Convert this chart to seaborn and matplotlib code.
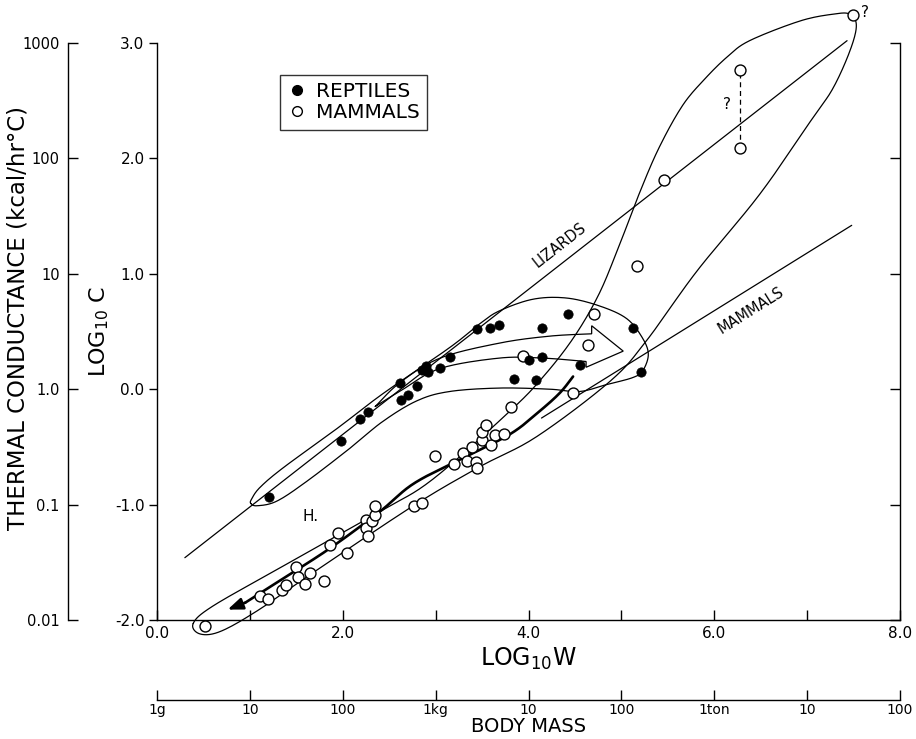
import numpy as np
import pandas as pd
import matplotlib
matplotlib.use("Agg")
import matplotlib.pyplot as plt
import seaborn as sns
from matplotlib.lines import Line2D

# ---------------- data ----------------
reptile_logw = [1.21, 1.98, 2.19, 2.27, 2.62, 2.63, 2.70, 2.80, 2.85, 2.90, 2.92, 3.05, 3.15,
                3.45, 3.59, 3.68, 3.84, 4.00, 4.08, 4.15, 4.15, 4.43, 4.55, 5.13, 5.21]
reptile_logc = [-0.93, -0.45, -0.26, -0.20, 0.05, -0.09, -0.05, 0.03, 0.17, 0.20, 0.15, 0.18, 0.28,
                0.52, 0.53, 0.56, 0.09, 0.25, 0.08, 0.28, 0.53, 0.65, 0.21, 0.53, 0.15]

mammal_logw = [0.52, 1.11, 1.20, 1.35, 1.39, 1.50, 1.52, 1.59, 1.65, 1.80, 1.86, 1.95, 2.05,
               2.25, 2.25, 2.27, 2.32, 2.35, 2.35, 2.77, 2.85, 2.99, 3.20, 3.29, 3.34, 3.39,
               3.43, 3.45, 3.50, 3.50, 3.54, 3.60, 3.64, 3.74, 3.81, 3.94, 4.48, 4.64, 4.70,
               5.17, 5.46, 6.28, 6.28, 7.49]
mammal_logc = [-2.05, -1.79, -1.82, -1.74, -1.70, -1.54, -1.63, -1.69, -1.59, -1.66, -1.35, -1.25, -1.42,
               -1.13, -1.20, -1.27, -1.14, -1.09, -1.01, -1.01, -0.99, -0.58, -0.65, -0.55, -0.62, -0.50,
               -0.63, -0.68, -0.44, -0.37, -0.31, -0.48, -0.40, -0.39, -0.15, 0.29, -0.03, 0.38, 0.65,
               1.07, 1.81, 2.09, 2.77, 3.24]

# regression lines
lizards_line_w = [0.30, 7.43]
lizards_line_c = [-1.46, 3.02]
mammals_line_w = [4.14, 7.48]
mammals_line_c = [-0.25, 1.42]

# envelopes (closed outlines)
reptile_env_w = [1.01, 1.02, 1.11, 1.36, 1.94, 2.43, 3.15, 3.48, 3.69, 4.05, 4.41, 4.77, 5.06, 5.23,
                 5.29, 5.23, 5.12, 4.84, 4.55, 4.23, 3.69, 3.15, 2.80, 2.43, 2.08, 1.61, 1.29, 1.08]
reptile_env_c = [-0.99, -0.95, -0.85, -0.68, -0.34, -0.04, 0.36, 0.57, 0.68, 0.78, 0.79, 0.72, 0.61, 0.44,
                 0.30, 0.16, 0.10, 0.04, -0.02, 0.00, 0.01, -0.02, -0.10, -0.28, -0.51, -0.80, -0.97, -1.01]

mammal_env_w = [0.39, 0.60, 1.32, 2.40, 2.97, 3.80, 4.15, 4.48, 4.75, 4.96, 5.20, 5.41, 5.66, 5.90,
                6.14, 6.38, 6.92, 7.28, 7.46, 7.53, 7.46, 7.28, 7.06, 6.49, 5.81, 5.27, 4.88, 4.09,
                3.48, 2.76, 1.68, 1.08, 0.68, 0.46]
mammal_env_c = [-2.03, -1.88, -1.55, -1.06, -0.78, -0.19, 0.10, 0.44, 0.81, 1.21, 1.71, 2.10, 2.46, 2.69,
                2.88, 3.02, 3.19, 3.25, 3.25, 3.15, 2.93, 2.61, 2.35, 1.69, 1.02, 0.42, 0.07, -0.41,
                -0.67, -1.01, -1.59, -1.92, -2.10, -2.12]

# hollow arrow in the reptile envelope
arrow_upper_w = [2.35, 2.62, 3.05, 3.69, 4.23, 4.68]
arrow_upper_c = [-0.15, 0.06, 0.27, 0.40, 0.46, 0.48]
arrow_head_w = [4.68, 4.68, 5.02, 4.62, 4.62]
arrow_head_c = [0.48, 0.55, 0.33, 0.19, 0.24]
arrow_lower_w = [4.62, 4.15, 3.69, 3.05, 2.65, 2.35]
arrow_lower_c = [0.24, 0.27, 0.27, 0.18, 0.00, -0.15]

# heavy trend arrow through mammals
mtrend_w = [4.48, 4.34, 4.12, 3.80, 3.26, 2.76, 2.40, 1.86, 1.32, 0.95]
mtrend_c = [0.11, -0.03, -0.19, -0.39, -0.61, -0.82, -1.06, -1.38, -1.66, -1.85]
mtrend_tip = (0.76, -1.91)

dash_w = [6.28, 6.28]
dash_c = [2.09, 2.77]

logc_ticks = [-2, -1, 0, 1, 2, 3]
logc_labels = ["-2.0", "-1.0", "0.0", "1.0", "2.0", "3.0"]
logw_ticks = [0, 1, 2, 3, 4, 5, 6, 7, 8]
logw_labels = ["0.0", "", "2.0", "", "4.0", "", "6.0", "", "8.0"]
cond_ticks = [0.01, 0.1, 1, 10, 100, 1000]
cond_labels = ["0.01", "0.1", "1.0", "10", "100", "1000"]
mass_ticks = [0, 1, 2, 3, 4, 5, 6, 7, 8]
mass_labels = ["1g", "10", "100", "1kg", "10", "100", "1ton", "10", "100"]


def smooth(xs, ys, closed=False, n=16):
    P = np.column_stack([xs, ys]).astype(float)
    if closed:
        P = np.vstack([P[-1], P, P[0], P[1]])
    else:
        P = np.vstack([P[0], P, P[-1]])
    t = np.linspace(0, 1, n, endpoint=False)[:, None]
    out = []
    for i in range(1, len(P) - 2):
        p0, p1, p2, p3 = P[i - 1], P[i], P[i + 1], P[i + 2]
        seg = 0.5 * ((2 * p1) + (-p0 + p2) * t + (2 * p0 - 5 * p1 + 4 * p2 - p3) * t ** 2
                     + (-p0 + 3 * p1 - 3 * p2 + p3) * t ** 3)
        out.append(seg)
    out.append(P[-2][None, :])
    r = np.vstack(out)
    return r[:, 0], r[:, 1]


sns.set_style("ticks")
plt.rcParams["font.family"] = ["DejaVu Sans"]
plt.rcParams["axes.linewidth"] = 1.0
for k in ["text.color", "axes.labelcolor", "xtick.color", "ytick.color", "axes.edgecolor"]:
    plt.rcParams[k] = "black"

W, H = 916, 739
fig = plt.figure(figsize=(W / 100, H / 100), dpi=100)
L, R, T, B = 157, 900, 43, 620
ax = fig.add_axes([L / W, 1 - B / H, (R - L) / W, (B - T) / H])
ax.set_xlim(0, 8)
ax.set_ylim(-2, 3)

thin = dict(color="black", lw=0.9, clip_on=False, solid_capstyle="round")

# regression lines
ax.plot(lizards_line_w, lizards_line_c, **thin)
ax.plot(mammals_line_w, mammals_line_c, **thin)

# envelopes
ex, ey = smooth(reptile_env_w, reptile_env_c, closed=True)
ax.plot(ex, ey, **thin)
ex, ey = smooth(mammal_env_w, mammal_env_c, closed=True)
ax.plot(ex, ey, **thin)

# hollow arrow
ux, uy = smooth(arrow_upper_w, arrow_upper_c)
lx, ly = smooth(arrow_lower_w, arrow_lower_c)
hx = np.concatenate([ux, arrow_head_w, lx])
hy = np.concatenate([uy, arrow_head_c, ly])
ax.plot(hx, hy, color="black", lw=0.9, clip_on=False, solid_joinstyle="miter")

# heavy trend arrow
tx, ty = smooth(mtrend_w, mtrend_c)
ax.plot(tx, ty, color="black", lw=1.9, clip_on=False)
ax.annotate("", xy=mtrend_tip, xytext=(mtrend_w[-1], mtrend_c[-1]),
            arrowprops=dict(arrowstyle="-|>,head_length=0.9,head_width=0.35", color="black",
                            lw=1.9, shrinkA=0, shrinkB=0), annotation_clip=False)

ax.plot(dash_w, dash_c, color="black", lw=0.9, ls=(0, (4, 3)), clip_on=False)

# points
rep = pd.DataFrame({"logW": reptile_logw, "logC": reptile_logc})
mam = pd.DataFrame({"logW": mammal_logw, "logC": mammal_logc})
sns.scatterplot(data=mam, x="logW", y="logC", ax=ax, s=62, color="white",
                edgecolor="black", linewidth=1.0, zorder=5, clip_on=False, legend=False)
sns.scatterplot(data=rep, x="logW", y="logC", ax=ax, s=45, color="black",
                edgecolor="black", linewidth=0.5, zorder=6, clip_on=False, legend=False)
for c in ax.collections:
    c.set_clip_on(False)

# text annotations
ax.text(4.34, 1.25, "LIZARDS", rotation=38, ha="center", va="center", fontsize=10.5)
ax.text(6.40, 0.68, "MAMMALS", rotation=32, ha="center", va="center", fontsize=10.5)
ax.text(1.65, -1.10, "H.", ha="center", va="center", fontsize=11)
ax.text(6.14, 2.47, "?", ha="center", va="center", fontsize=11)
ax.text(7.62, 3.26, "?", ha="center", va="center", fontsize=11, clip_on=False)

# legend
handles = [Line2D([], [], marker="o", ls="none", markerfacecolor="black", markeredgecolor="black",
                  markersize=7, label="REPTILES"),
           Line2D([], [], marker="o", ls="none", markerfacecolor="white", markeredgecolor="black",
                  markersize=7, label="MAMMALS")]
leg = ax.legend(handles=handles, loc="upper left", bbox_to_anchor=(280 / W, 1 - 75 / H),
                bbox_transform=fig.transFigure, frameon=True, fancybox=False, fontsize=14.5,
                handletextpad=0.45, borderpad=0.35, labelspacing=0.12, handlelength=1.0,
                borderaxespad=0)
leg.get_frame().set_edgecolor("black")
leg.get_frame().set_linewidth(1.0)

# main axes styling
ax.spines["top"].set_visible(False)
ax.spines["right"].set_visible(False)
ax.set_xticks(logw_ticks)
ax.set_xticklabels(logw_labels)
ax.set_yticks(logc_ticks)
ax.set_yticklabels(logc_labels)
ax.tick_params(axis="x", direction="in", length=7, width=1, labelsize=11, pad=4)
ax.tick_params(axis="y", direction="out", length=6, width=1, labelsize=11, pad=3)
ax.set_xlabel(r"LOG$_{\mathrm{10}}$W", fontsize=17, labelpad=4)
ax.set_ylabel(r"LOG$_{\mathrm{10}}$ C", fontsize=16, labelpad=3)
ax.grid(False)

# right frame with inward ticks
axr = ax.secondary_yaxis("right")
axr.set_yticks(logc_ticks)
axr.set_yticklabels([])
axr.tick_params(axis="y", direction="in", length=7, width=1)
axr.spines["right"].set_linewidth(1.0)

# left conductance axis
ax2 = fig.add_axes([68 / W, 1 - B / H, 0.0005, (B - T) / H])
ax2.set_yscale("log")
ax2.set_ylim(0.01, 1000)
for s in ["top", "right", "bottom"]:
    ax2.spines[s].set_visible(False)
ax2.set_xticks([])
ax2.set_yticks(cond_ticks)
ax2.set_yticklabels(cond_labels)
ax2.yaxis.set_minor_locator(matplotlib.ticker.NullLocator())
ax2.tick_params(axis="y", direction="in", length=7, width=1, labelsize=10.5, pad=6)
ax2.patch.set_visible(False)
fig.text(18 / W, 1 - 318 / H, "THERMAL CONDUCTANCE (kcal/hr°C)", rotation=90,
         ha="center", va="center", fontsize=16.5)

# bottom body-mass axis
ax3 = fig.add_axes([L / W, 1 - 700 / H, (R - L) / W, 0.0005])
ax3.set_xlim(0, 8)
for s in ["top", "right", "left"]:
    ax3.spines[s].set_visible(False)
ax3.set_yticks([])
ax3.set_xticks(mass_ticks)
ax3.set_xticklabels(mass_labels)
ax3.tick_params(axis="x", direction="in", length=7, width=1, labelsize=10, pad=2)
ax3.patch.set_visible(False)
ax3.set_xlabel("BODY MASS", fontsize=14, labelpad=0)

fig.savefig("out.png", dpi=100)
